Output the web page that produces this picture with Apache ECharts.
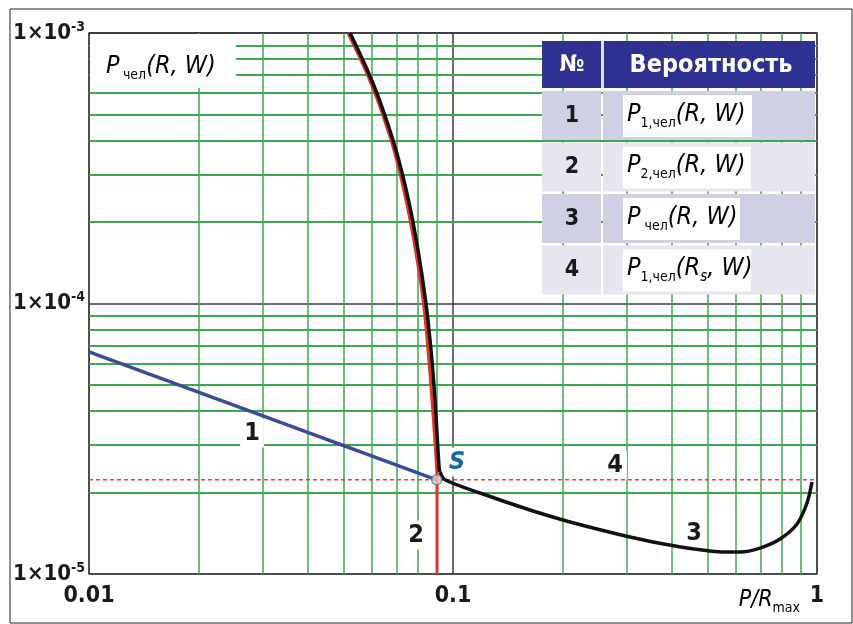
<!DOCTYPE html>
<html>
<head>
<meta charset="utf-8">
<script src="https://cdn.jsdelivr.net/npm/echarts@6/dist/echarts.min.js"></script>
<style>
  html, body { margin: 0; padding: 0; background: #fff; }
  #chart { width: 853px; height: 624px; }
</style>
</head>
<body>
<div id="chart"></div>
<script>
// оси (логарифмические)
var xTicks = [0.01, 0.1, 1];
var xTickLabels = ['0.01', '0.1', '1'];
var yTicks = [1e-5, 1e-4, 1e-3];
var minorSteps = [2, 3, 4, 5, 6, 7, 8, 9];

// 1 - P1,чел(R, W)
var c1X = [0.01, 0.0902];
var c1Y = [6.62e-5, 2.23e-5];

// 2 - P2,чел(R, W)
var c2X = [0.05147, 0.05695, 0.06202, 0.06884, 0.07427, 0.07888, 0.08298, 0.08537, 0.08756, 0.08952, 0.09038, 0.09038];
var c2Y = [1e-3, 7.488e-4, 5.652e-4, 3.694e-4, 2.413e-4, 1.577e-4, 1.0e-4, 6.730e-5, 4.397e-5, 2.873e-5, 2.23e-5, 1e-5];

// 3 - Pчел(R, W): верхняя ветвь (до S) и нижняя (после S)
var c3aX = [0.05213, 0.05768, 0.06281, 0.06971, 0.07545, 0.08014, 0.08429, 0.08700, 0.08924, 0.09094, 0.09164, 0.09210];
var c3aY = [1e-3, 7.488e-4, 5.652e-4, 3.694e-4, 2.413e-4, 1.577e-4, 1.0e-4, 6.730e-5, 4.397e-5, 2.873e-5, 2.45e-5, 2.382e-5];
var c3bX = [0.09210, 0.09506, 0.11865, 0.16274, 0.20055, 0.24863, 0.30641, 0.35437, 0.43936, 0.50820, 0.55876, 0.61436, 0.69723, 0.79130, 0.88124, 0.93871, 0.96885];
var c3bY = [2.382e-5, 2.23e-5, 1.993e-5, 1.724e-5, 1.584e-5, 1.467e-5, 1.370e-5, 1.313e-5, 1.247e-5, 1.216e-5, 1.206e-5, 1.206e-5, 1.247e-5, 1.347e-5, 1.531e-5, 1.830e-5, 2.188e-5];

// 4 - P1,чел(Rs, W)
var c4Y = 2.23e-5;

// точка S
var sX = 0.0902;
var sY = 2.23e-5;

var FONT = "'Liberation Sans Narrow', 'DejaVu Sans Condensed', 'Liberation Sans', Arial, sans-serif";
var GREEN = '#3aaa4c';

function pairs(xs, ys) {
  var out = [];
  for (var i = 0; i < xs.length; i++) out.push([xs[i], ys[i]]);
  return out;
}

// сетка: промежуточные линии 2..9 в каждой декаде
var xMin = xTicks[0], xMax = xTicks[xTicks.length - 1];
var yMin = yTicks[0], yMax = yTicks[yTicks.length - 1];
var gridLines = [];
for (var i = 0; i < xTicks.length - 1; i++) {
  minorSteps.forEach(function (m) {
    var v = xTicks[i] * m;
    gridLines.push([
      { coord: [v, yMin], lineStyle: { color: GREEN, width: 1.5, type: 'solid' } },
      { coord: [v, yMax] }
    ]);
  });
}
for (var j = 0; j < yTicks.length - 1; j++) {
  minorSteps.forEach(function (m) {
    var v = yTicks[j] * m;
    gridLines.push([
      { coord: [xMin, v], lineStyle: { color: GREEN, width: 2, type: 'solid' } },
      { coord: [xMax, v] }
    ]);
  });
}

var chart = echarts.init(document.getElementById('chart'), null, { renderer: 'canvas' });

// подписи с белой подложкой
function tag(text, x, y, color, italic) {
  return {
    type: 'text', z: 3, x: x, y: y,
    style: {
      text: text, fill: color || '#1a1a1a',
      font: (italic ? 'italic ' : '') + 'bold 25px ' + FONT,
      align: 'center', verticalAlign: 'middle',
      backgroundColor: '#fff', padding: [2, 4]
    }
  };
}

var rowTexts = [
  '{i|P}{sub|1,чел}{i|(R, W)}',
  '{i|P}{sub|2,чел}{i|(R, W)}',
  '{i|P}{sub| чел}{i|(R, W)}',
  '{i|P}{sub|1,чел}{i|(R}{subi|s}{i|, W)}'
];
var rowBoxW = [129, 128, 117, 128];
var richFormula = {
  i: { fontFamily: FONT, fontSize: 25, fontStyle: 'italic', lineHeight: 32, color: '#111' },
  sub: { fontFamily: FONT, fontSize: 14, verticalAlign: 'bottom', lineHeight: 17, color: '#111' },
  subi: { fontFamily: FONT, fontSize: 15, fontStyle: 'italic', verticalAlign: 'bottom', lineHeight: 17, color: '#111' }
};

var table = [];
// шапка
table.push({ type: 'rect', z: 10, shape: { x: 542, y: 41, width: 273, height: 47 }, style: { fill: '#2e3192' } });
table.push({ type: 'rect', z: 10, shape: { x: 601, y: 41, width: 3, height: 47 }, style: { fill: '#dfe0ec' } });
table.push({ type: 'text', z: 11, x: 572, y: 65, style: { text: '№', fill: '#fff', font: 'bold 23px ' + FONT, align: 'center', verticalAlign: 'middle' } });
table.push({ type: 'text', z: 11, x: 711, y: 65, style: { text: 'Вероятность', fill: '#fff', font: 'bold 25px ' + FONT, align: 'center', verticalAlign: 'middle' } });
for (var r = 0; r < 4; r++) {
  var rowTop = 91 + r * 51.5;
  var col = (r % 2 === 0) ? '#cfd0e3' : '#e6e6ef';
  table.push({ type: 'rect', z: 10, shape: { x: 542, y: rowTop, width: 59, height: 49 }, style: { fill: col } });
  table.push({ type: 'rect', z: 10, shape: { x: 603, y: rowTop, width: 212, height: 49 }, style: { fill: col } });
  table.push({ type: 'rect', z: 10, shape: { x: 623, y: rowTop + 4, width: rowBoxW[r], height: 42 }, style: { fill: '#fff' } });
  table.push({ type: 'text', z: 11, x: 572, y: rowTop + 25, style: { text: String(r + 1), fill: '#1a1a1a', font: 'bold 23px ' + FONT, align: 'center', verticalAlign: 'middle' } });
  table.push({ type: 'text', z: 11, x: 627, y: rowTop + 23, style: { text: rowTexts[r], rich: richFormula, align: 'left', verticalAlign: 'middle' } });
}

var option = {
  animation: false,
  backgroundColor: '#fff',
  grid: { left: 89, top: 33, right: 36, bottom: 50, show: true, borderColor: '#555', borderWidth: 1.5 },
  xAxis: {
    type: 'log', logBase: 10, min: xMin, max: xMax, splitNumber: 2,
    axisLine: { show: false },
    axisTick: { show: false },
    splitLine: { show: true, lineStyle: { color: '#3c3c3c', width: 1.5 } },
    axisLabel: {
      margin: 11, color: '#1a1a1a', fontFamily: FONT, fontWeight: 'bold', fontSize: 23,
      formatter: function (v, idx) { return xTickLabels[idx]; }
    }
  },
  yAxis: {
    type: 'log', logBase: 10, min: yMin, max: yMax, splitNumber: 2,
    axisLine: { show: false },
    axisTick: { show: false },
    splitLine: { show: true, lineStyle: { color: '#3c3c3c', width: 1.5 } },
    axisLabel: {
      margin: 4,
      formatter: function (v) { return '{b|1×10}{s|' + Math.round(Math.log10(v)) + '}'; },
      rich: {
        b: { fontFamily: FONT, fontWeight: 'bold', fontSize: 22, lineHeight: 26, color: '#1a1a1a' },
        s: { fontFamily: FONT, fontWeight: 'bold', fontSize: 14, verticalAlign: 'top', lineHeight: 16, color: '#1a1a1a' }
      }
    }
  },
  series: [
    {
      name: 'grid', type: 'line', z: 1, data: [[xMin, yMin]], symbolSize: 0, silent: true,
      lineStyle: { width: 0 },
      markLine: { z: 1, silent: true, symbol: ['none', 'none'], label: { show: false }, animation: false, data: gridLines }
    },
    {
      name: '4', type: 'line', z: 5, showSymbol: false, silent: true,
      data: [[xMin, c4Y], [xMax, c4Y]],
      lineStyle: { color: '#e8413c', width: 1.5, type: [4, 3] }
    },
    {
      name: '1', type: 'line', z: 6, showSymbol: false, silent: true,
      data: pairs(c1X, c1Y),
      lineStyle: { color: '#3b4b9c', width: 3.5 }
    },
    {
      name: '2', type: 'line', z: 6, showSymbol: false, silent: true, smooth: 0.3,
      data: pairs(c2X, c2Y),
      lineStyle: { color: '#e8312a', width: 3 }
    },
    {
      name: '3a', type: 'line', z: 7, showSymbol: false, silent: true, smooth: 0.3,
      data: pairs(c3aX, c3aY),
      lineStyle: { color: '#111', width: 3.5 }
    },
    {
      name: '3b', type: 'line', z: 7, showSymbol: false, silent: true, smooth: 0.3,
      data: pairs(c3bX, c3bY),
      lineStyle: { color: '#111', width: 3.5 }
    },
    {
      name: 'S', type: 'scatter', z: 8, silent: true,
      data: [[sX, sY]], symbol: 'circle', symbolSize: 10,
      itemStyle: { color: '#d8d8d8', borderColor: '#777', borderWidth: 1.5 }
    }
  ],
  graphic: [
    { type: 'rect', z: 0, shape: { x: 10, y: 9, width: 842, height: 614 }, style: { fill: 'none', stroke: '#222', lineWidth: 1 } },
    { type: 'rect', z: 3, shape: { x: 90, y: 34, width: 146, height: 54 }, style: { fill: '#fff' } },
    {
      type: 'text', z: 4, x: 106, y: 66,
      style: {
        text: '{i|P} {sub|чел}{i|(R, W)}', align: 'left', verticalAlign: 'middle',
        rich: richFormula
      }
    },
    tag('1', 252, 433),
    tag('2', 416, 535),
    tag('3', 694, 533),
    tag('4', 615, 465),
    tag('S', 457, 462, '#1565b0', true),
    {
      type: 'text', z: 4, x: 800, y: 600,
      style: {
        text: '{i|P/R}{sub|max}', align: 'right', verticalAlign: 'middle',
        rich: {
          i: { fontFamily: FONT, fontSize: 23, fontStyle: 'italic', lineHeight: 30, color: '#1a1a1a' },
          sub: { fontFamily: FONT, fontSize: 14, verticalAlign: 'bottom', lineHeight: 14, color: '#1a1a1a' }
        }
      }
    }
  ].concat(table)
};

chart.setOption(option);
</script>
</body>
</html>
